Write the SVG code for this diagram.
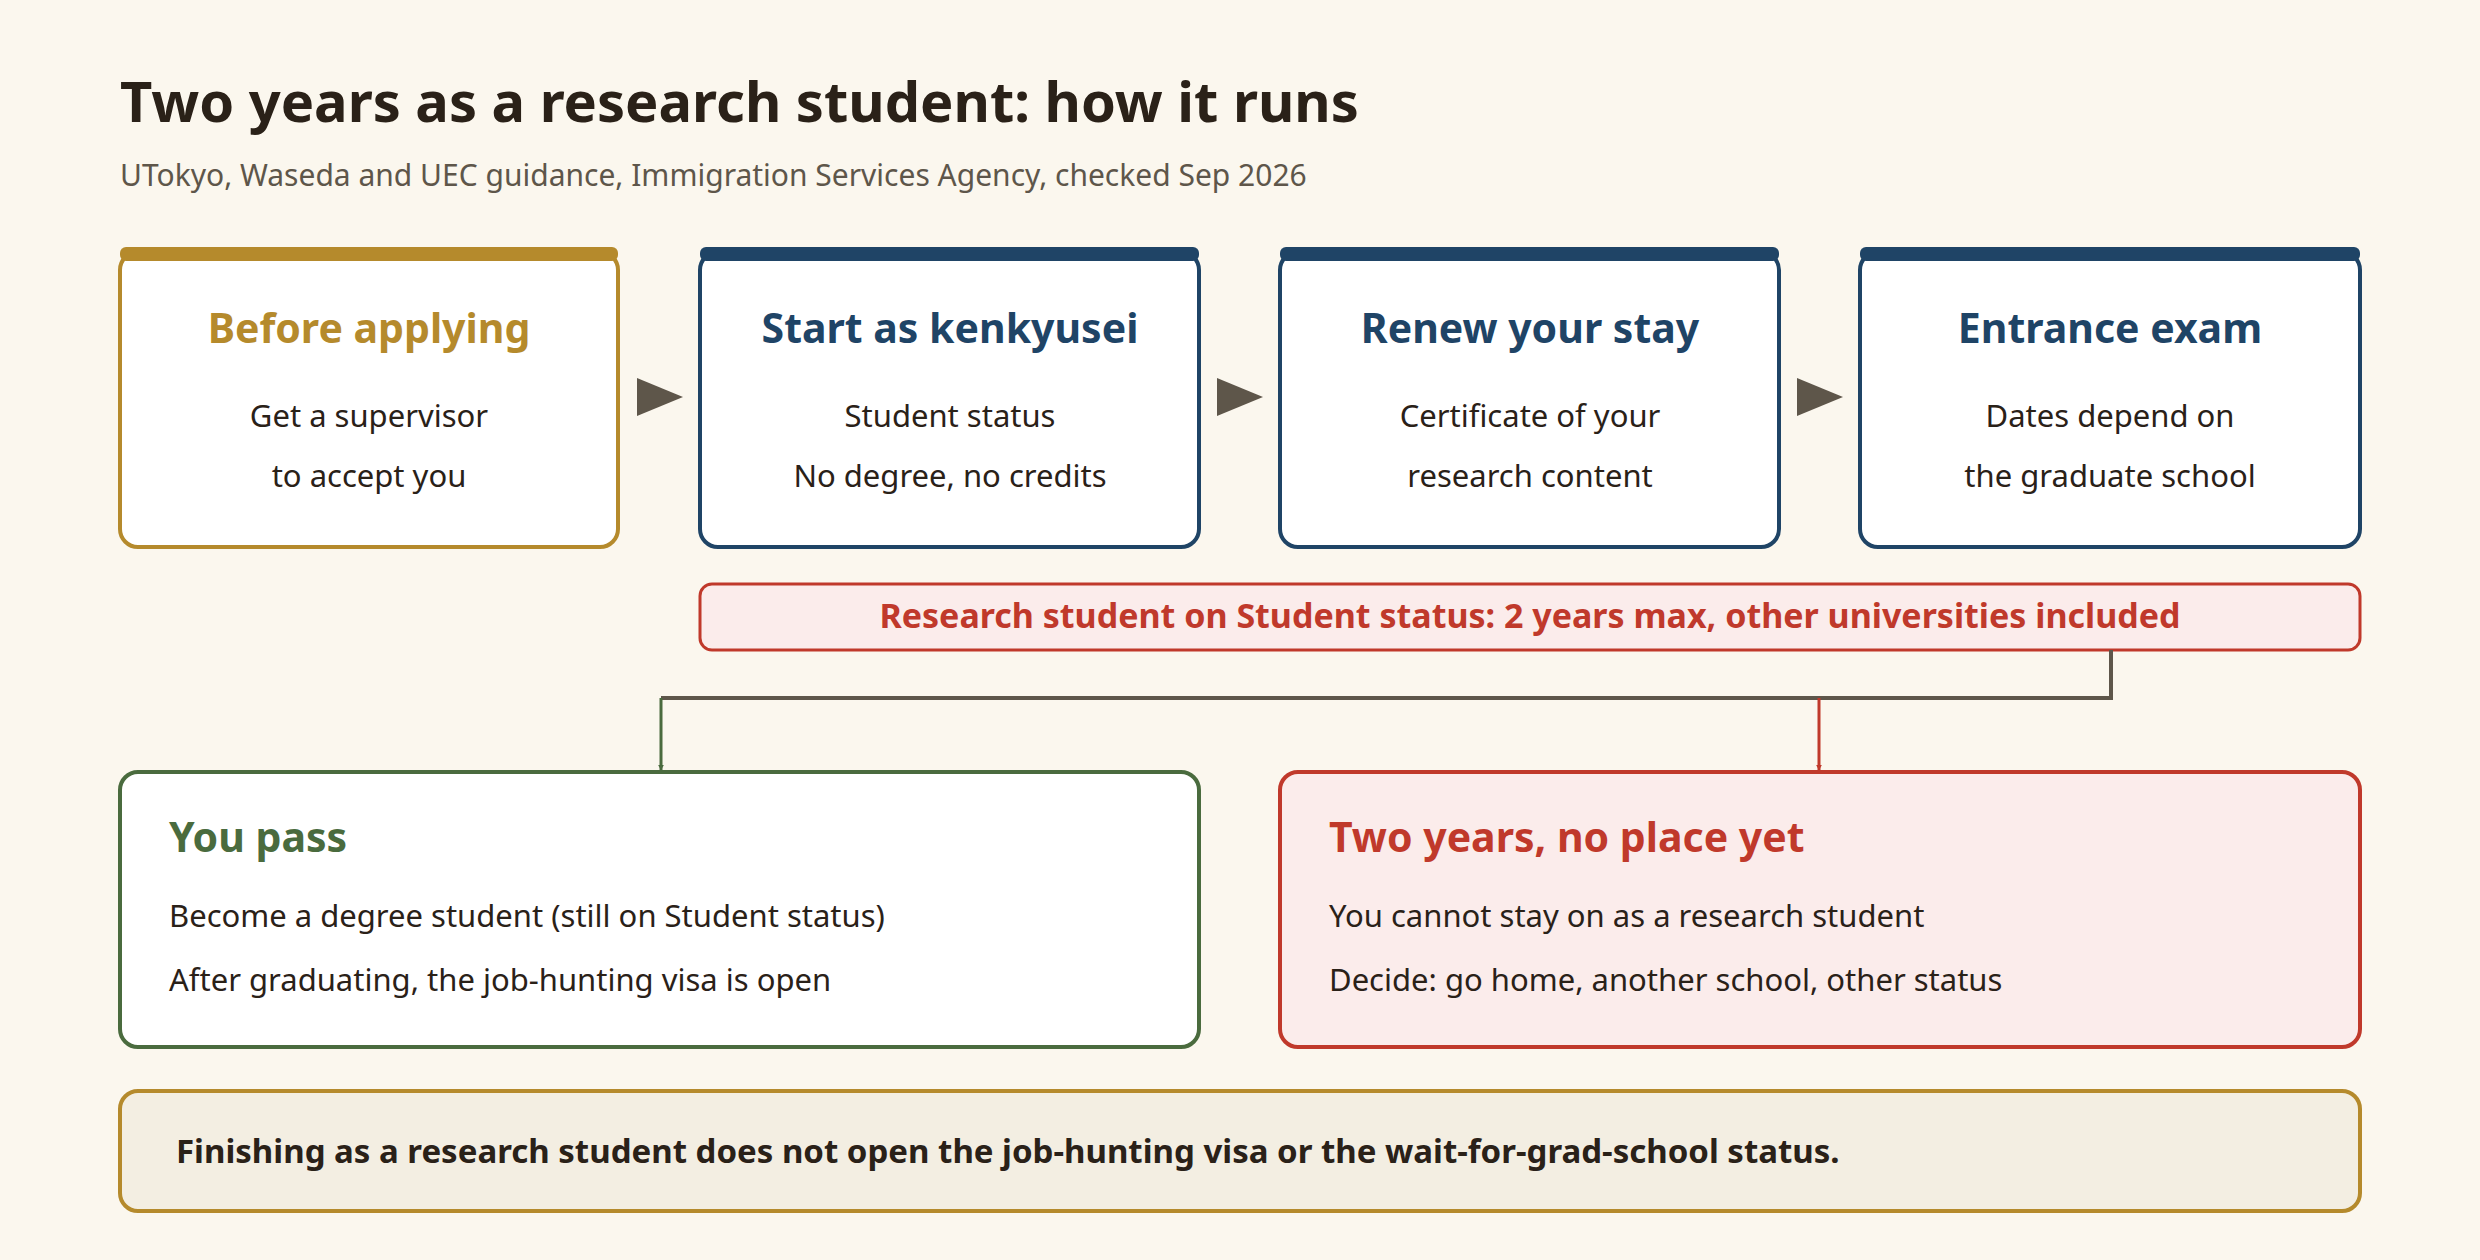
<svg xmlns="http://www.w3.org/2000/svg" width="2480" height="1260" viewBox="0 0 2480 1260">
<defs>
<style>
text{font-family:"Noto Sans","Liberation Sans",sans-serif;}
.t{font-size:41px;font-weight:700;text-anchor:middle}
.b{font-size:31px;fill:#2a2118;text-anchor:middle}
.bl{font-size:31px;fill:#2a2118}
.box{fill:#fff;stroke-width:4}
</style>
<marker id="ag" viewBox="0 0 10 10" refX="9" refY="5" markerWidth="6" markerHeight="6" markerUnits="userSpaceOnUse" orient="auto"><path d="M0,0 L10,5 L0,10 z" fill="#4a6b3e"/></marker>
<marker id="ar" viewBox="0 0 10 10" refX="9" refY="5" markerWidth="6" markerHeight="6" markerUnits="userSpaceOnUse" orient="auto"><path d="M0,0 L10,5 L0,10 z" fill="#c0392b"/></marker>
</defs>
<rect width="2480" height="1260" fill="#fbf7ee"/>
<text x="120" y="122" font-size="56" font-weight="700" fill="#2a2118">Two years as a research student: how it runs</text>
<text x="120" y="186" font-size="30" fill="#5e564a">UTokyo, Waseda and UEC guidance, Immigration Services Agency, checked Sep 2026</text>

<g id="n1"><rect class="box" x="120" y="252" width="498" height="295" rx="18" stroke="#b58a2c"/><rect x="120" y="247" width="498" height="14" rx="6" fill="#b58a2c"/>
<text class="t" x="369" y="343" fill="#b58a2c">Before applying</text><text class="b" x="369" y="427">Get a supervisor</text><text class="b" x="369" y="487">to accept you</text></g>
<g id="n2"><rect class="box" x="700" y="252" width="499" height="295" rx="18" stroke="#1f4466"/><rect x="700" y="247" width="499" height="14" rx="6" fill="#1f4466"/>
<text class="t" x="950" y="343" fill="#1f4466">Start as kenkyusei</text><text class="b" x="950" y="427">Student status</text><text class="b" x="950" y="487">No degree, no credits</text></g>
<g id="n3"><rect class="box" x="1280" y="252" width="499" height="295" rx="18" stroke="#1f4466"/><rect x="1280" y="247" width="499" height="14" rx="6" fill="#1f4466"/>
<text class="t" x="1530" y="343" fill="#1f4466">Renew your stay</text><text class="b" x="1530" y="427">Certificate of your</text><text class="b" x="1530" y="487">research content</text></g>
<g id="n4"><rect class="box" x="1860" y="252" width="500" height="295" rx="18" stroke="#1f4466"/><rect x="1860" y="247" width="500" height="14" rx="6" fill="#1f4466"/>
<text class="t" x="2110" y="343" fill="#1f4466">Entrance exam</text><text class="b" x="2110" y="427">Dates depend on</text><text class="b" x="2110" y="487">the graduate school</text></g>

<g id="limit"><rect x="700" y="584" width="1660" height="66" rx="12" fill="#fbeceb" stroke="#c0392b" stroke-width="3"/>
<text x="1530" y="628" font-size="34" font-weight="700" fill="#c0392b" text-anchor="middle">Research student on Student status: 2 years max, other universities included</text></g>

<g id="connectors">
<path d="M637,378 L683,397 L637,416 z" fill="#5e564a"/>
<path d="M1217,378 L1263,397 L1217,416 z" fill="#5e564a"/>
<path d="M1797,378 L1843,397 L1797,416 z" fill="#5e564a"/>
<path d="M2111,650 V698 H661" fill="none" stroke="#5e564a" stroke-width="4"/>
<path d="M661,698 V770" fill="none" stroke="#4a6b3e" stroke-width="3" marker-end="url(#ag)"/>
<path d="M1819,698 V770" fill="none" stroke="#c0392b" stroke-width="3" marker-end="url(#ar)"/>
</g>

<g id="pass"><rect x="120" y="772" width="1079" height="275" rx="18" fill="#fff" stroke="#4a6b3e" stroke-width="4"/>
<text x="169" y="852" font-size="41" font-weight="700" fill="#4a6b3e">You pass</text>
<text class="bl" x="169" y="927">Become a degree student (still on Student status)</text>
<text class="bl" x="169" y="991">After graduating, the job-hunting visa is open</text></g>
<g id="noplace"><rect x="1280" y="772" width="1080" height="275" rx="18" fill="#fbeceb" stroke="#c0392b" stroke-width="4"/>
<text x="1329" y="852" font-size="41" font-weight="700" fill="#c0392b">Two years, no place yet</text>
<text class="bl" x="1329" y="927">You cannot stay on as a research student</text>
<text class="bl" x="1329" y="991">Decide: go home, another school, other status</text></g>
<g id="note"><rect x="120" y="1091" width="2240" height="120" rx="18" fill="#f3eee2" stroke="#b58a2c" stroke-width="4"/>
<text x="176" y="1163" font-size="33" font-weight="700" fill="#2a2118">Finishing as a research student does not open the job-hunting visa or the wait-for-grad-school status.</text></g>
</svg>
